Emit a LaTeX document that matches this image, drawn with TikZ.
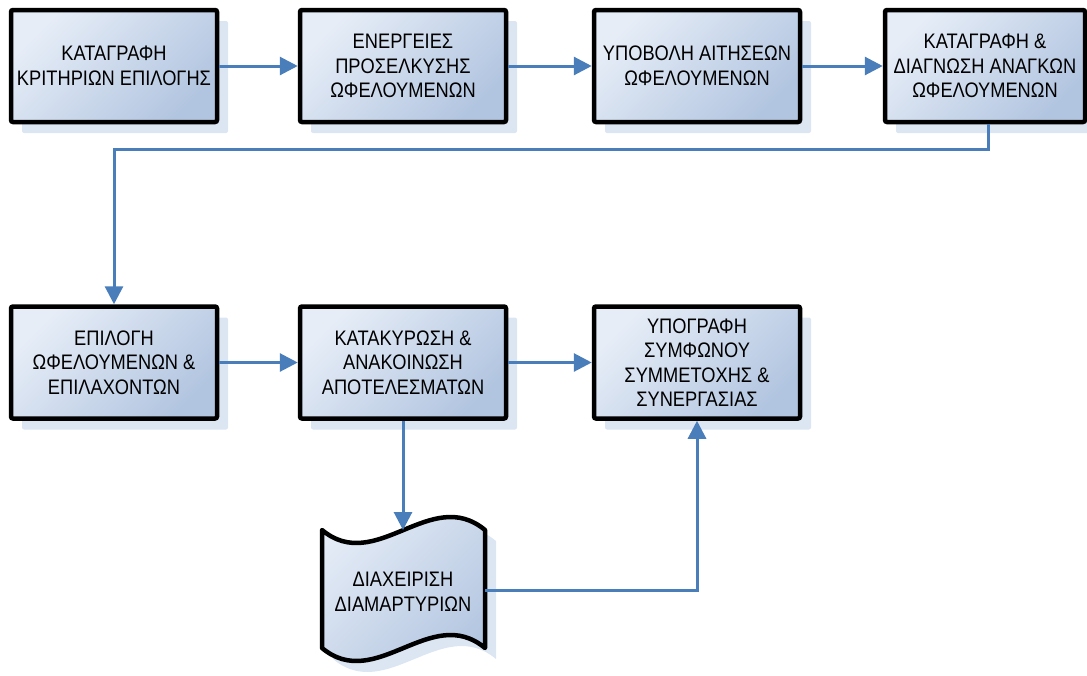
\documentclass[tikz,border=0pt]{standalone}
\usepackage{fontspec}
\setmainfont{Liberation Sans}[FakeStretch=0.87]
\usetikzlibrary{arrows.meta,shadows}
\definecolor{lineblue}{HTML}{4A7EBB}
\definecolor{shadowc}{HTML}{DCE5F2}
\definecolor{fillA}{HTML}{E6EDF7}
\definecolor{fillB}{HTML}{B2C5E0}
\begin{document}
\begin{tikzpicture}[x=1pt,y=-1pt,
  procbox/.style={draw=black, line width=4.5pt, rounded corners=2pt,
    minimum width=206pt, minimum height=112pt, align=center,
    font=\fontsize{21}{24.5}\selectfont,
    top color=fillA, bottom color=fillB, shading angle=45,
    general shadow={fill=shadowc, draw=none, shadow xshift=11pt, shadow yshift=-11pt}},
  conn/.style={draw=lineblue, line width=3pt, -{Triangle[length=18pt,width=18pt]}},
  wavetext/.style={align=center, font=\fontsize{21}{24.5}\selectfont}]
\useasboundingbox (0,0) rectangle (1087,675);

% row 1
\node[procbox] (b1) at (114,66) {ΚΑΤΑΓΡΑΦΗ\\ΚΡΙΤΗΡΙΩΝ ΕΠΙΛΟΓΗΣ};
\node[procbox] (b2) at (403,66) {ΕΝΕΡΓΕΙΕΣ\\ΠΡΟΣΕΛΚΥΣΗΣ\\ΩΦΕΛΟΥΜΕΝΩΝ};
\node[procbox] (b3) at (697,66) {ΥΠΟΒΟΛΗ ΑΙΤΗΣΕΩΝ\\ΩΦΕΛΟΥΜΕΝΩΝ};
\node[procbox, minimum width=200pt] (b4) at (985,66) {ΚΑΤΑΓΡΑΦΗ \&\\ΔΙΑΓΝΩΣΗ ΑΝΑΓΚΩΝ\\ΩΦΕΛΟΥΜΕΝΩΝ};

% row 2
\node[procbox] (b5) at (114,362.5) {ΕΠΙΛΟΓΗ\\ΩΦΕΛΟΥΜΕΝΩΝ \&\\ΕΠΙΛΑΧΟΝΤΩΝ};
\node[procbox] (b6) at (403,362.5) {ΚΑΤΑΚΥΡΩΣΗ \&\\ΑΝΑΚΟΙΝΩΣΗ\\ΑΠΟΤΕΛΕΣΜΑΤΩΝ};
\node[procbox] (b7) at (697,362.5) {ΥΠΟΓΡΑΦΗ\\ΣΥΜΦΩΝΟΥ\\ΣΥΜΜΕΤΟΧΗΣ \&\\ΣΥΝΕΡΓΑΣΙΑΣ};

% wave (tape) shape
\path[fill=shadowc] (333,541) .. controls (387,586) and (442,496) .. (496,541)
  -- (496,659) .. controls (442,614) and (387,704) .. (333,659) -- cycle;
\path[draw=black, line width=4.5pt, line join=round, top color=fillA, bottom color=fillB, shading angle=45]
  (322,530) .. controls (376,575) and (431,485) .. (485,530)
  -- (485,648) .. controls (431,603) and (376,693) .. (322,648) -- cycle;
\node[wavetext] (w) at (403,592) {ΔΙΑΧΕΙΡΙΣΗ\\ΔΙΑΜΑΡΤΥΡΙΩΝ};
\coordinate (wtop) at (403,530);
\coordinate (wright) at (485,590);

% connectors
\draw[conn] (b1) -- (b2);
\draw[conn] (b2) -- (b3);
\draw[conn] (b3) -- (b4);
\coordinate (c4) at (988,149);
\draw[conn] (b4.south -| c4) -- (c4) -- (c4 -| b5.north) -- (b5.north);
\draw[conn] (b5) -- (b6);
\draw[conn] (b6) -- (b7);
\draw[conn] (b6.south) -- (wtop);
\coordinate (c7) at (697,590);
\draw[conn] (wright) -- (c7) -- (b7.south);
\end{tikzpicture}
\end{document}
